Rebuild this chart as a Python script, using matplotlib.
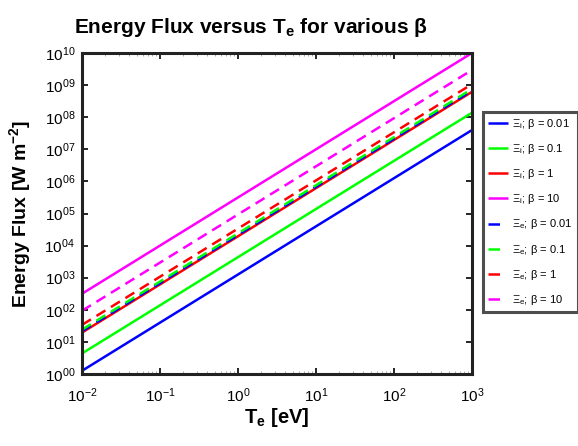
import matplotlib
matplotlib.use("Agg")
import matplotlib.pyplot as plt
from matplotlib.lines import Line2D
from matplotlib.ticker import FixedLocator, FixedFormatter, NullLocator

plt.rcParams['font.family'] = ['Liberation Sans', 'DejaVu Sans']
plt.rcParams['mathtext.fontset'] = 'custom'
plt.rcParams['mathtext.rm'] = 'Liberation Sans'
plt.rcParams['mathtext.it'] = 'Liberation Sans'
plt.rcParams['mathtext.bf'] = 'Liberation Sans:bold'

# Data: endpoints (straight lines on log-log axes)
te_ev = [1e-2, 1e3]
betas = ["0.01", "0.1", "1", "10"]
colors = ["#0000ff", "#00ff00", "#ff0000", "#ff00ff"]
xi_i_log = [[0.10, 7.60], [0.64, 8.14], [1.29, 8.79], [2.50, 10.00]]
xi_e_log = [[1.33, 8.83], [1.38, 8.88], [1.53, 9.03], [1.97, 9.47]]
x_tick_exp = ["-2", "-1", "0", "1", "2", "3"]
y_tick_exp = ["00", "01", "02", "03", "04", "05", "06", "07", "08", "09", "10"]

fig = plt.figure(figsize=(5.78, 4.46), dpi=100)
W, H = 578, 446
ax = fig.add_axes([82 / W, 1 - 374 / H, (472 - 82) / W, (374 - 53) / H])

lw = 1.8
dash = (4.2, 2.6)
handles = []
for b, c, yl in zip(betas, colors, xi_i_log):
    ax.plot(te_ev, [10 ** v for v in yl], color=c, lw=lw, solid_capstyle='butt')
for b, c, yl in zip(betas, colors, xi_e_log):
    ax.plot(te_ev, [10 ** v for v in yl], color=c, lw=lw, dashes=dash, dash_capstyle='butt')

for b, c in zip(betas, colors):
    handles.append((Line2D([], [], color=c, lw=lw, solid_capstyle='butt'),
                    r"$\Xi_\mathrm{i}$; β = " + b))
for b, c in zip(betas, colors):
    handles.append((Line2D([], [], color=c, lw=lw, dashes=(4.6, 20), dash_capstyle='butt'),
                    r"$\Xi_\mathrm{e}$; β = " + b))

ax.set_xscale('log')
ax.set_yscale('log')
ax.set_xlim(1e-2, 1e3)
ax.set_ylim(1e0, 1e10)
ax.xaxis.set_major_locator(FixedLocator([10.0 ** int(e) for e in x_tick_exp]))
ax.xaxis.set_major_formatter(FixedFormatter([r"$\mathregular{10^{%s}}$" % e for e in x_tick_exp]))
ax.yaxis.set_major_locator(FixedLocator([10.0 ** int(e) for e in y_tick_exp]))
ax.yaxis.set_major_formatter(FixedFormatter([r"$\mathregular{10^{%s}}$" % e for e in y_tick_exp]))
ax.yaxis.set_minor_locator(NullLocator())
ax.tick_params(which='both', direction='in', top=True, right=True, labelsize=11)
ax.tick_params(axis='x', pad=9)
ax.tick_params(axis='y', pad=5)
ax.tick_params(which='major', length=4, width=1.2)
ax.tick_params(which='minor', length=2, width=0.6, color='#999999')
for s in ax.spines.values():
    s.set_linewidth(2.2)
    s.set_color('#222222')

ax.set_xlabel(r"$\mathbf{T_e}$ [eV]", fontsize=14.5, fontweight='bold', labelpad=1)
ax.set_ylabel(r"Energy Flux [W m$^{\mathbf{-2}}$]", fontsize=14, fontweight='bold')
ax.yaxis.set_label_coords(-(82 - 33) / (472 - 82), 0.5)
fig.text(251 / W, 1 - 33 / H, r"Energy Flux versus $\mathbf{T_e}$ for various β",
         ha='center', va='baseline', fontsize=15, fontweight='bold')

leg = fig.legend([h for h, _ in handles], [l for _, l in handles],
                 loc='upper left', bbox_to_anchor=(483 / W, 1 - 112 / H),
                 fontsize=8, handlelength=1.8, handletextpad=0.4, labelspacing=1.0,
                 borderpad=0.45, borderaxespad=0, frameon=True, fancybox=False)
leg.get_frame().set_edgecolor('#222222')
leg.get_frame().set_linewidth(2.2)

fig.savefig("out.png", dpi=100)
